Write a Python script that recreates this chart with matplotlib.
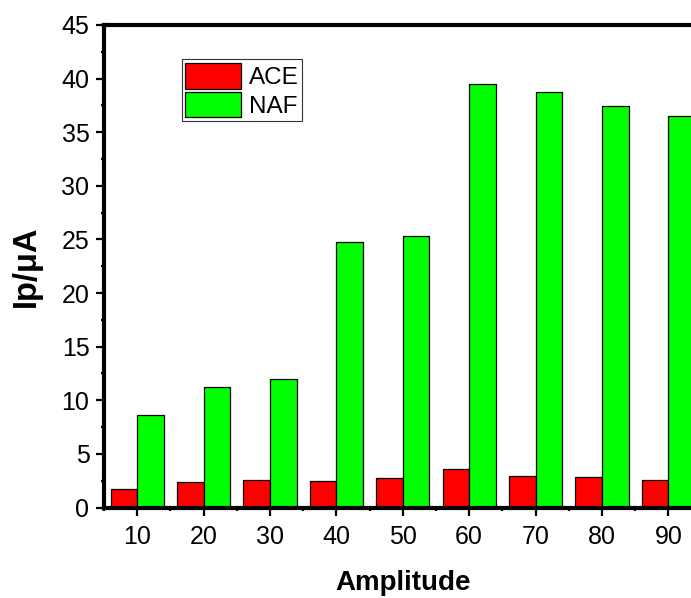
import matplotlib
matplotlib.use("Agg")
import matplotlib.pyplot as plt
from matplotlib.ticker import MultipleLocator

plt.rcParams['font.family'] = ['Liberation Sans', 'DejaVu Sans']

amplitude = [10, 20, 30, 40, 50, 60, 70, 80, 90]
ace = [1.72, 2.35, 2.54, 2.44, 2.72, 3.59, 2.91, 2.82, 2.54]
naf = [8.60, 11.27, 12.02, 24.80, 25.30, 39.53, 38.76, 37.45, 36.55]
series_names = ["ACE", "NAF"]
x_label = "Amplitude"
y_label = "Ip/\u03bcA"

fig = plt.figure(figsize=(6.91, 5.98), dpi=100)
ax = fig.add_axes([0.1505, 0.1513, 0.8648, 0.8069])

bw = 4
ax.bar([a - bw / 2 for a in amplitude], ace, width=bw, color="#ff0000",
       edgecolor="black", linewidth=0.9, label=series_names[0])
ax.bar([a + bw / 2 for a in amplitude], naf, width=bw, color="#00ff00",
       edgecolor="black", linewidth=0.9, label=series_names[1])

ax.set_xlim(5, 95)
ax.set_ylim(0, 45)
ax.xaxis.set_major_locator(MultipleLocator(10))
ax.xaxis.set_minor_locator(MultipleLocator(5))
ax.yaxis.set_major_locator(MultipleLocator(5))
ax.yaxis.set_minor_locator(MultipleLocator(2.5))
ax.set_xticks(amplitude)
ax.set_xticklabels([str(a) for a in amplitude])

for s in ax.spines.values():
    s.set_linewidth(3)
ax.tick_params(which="major", direction="out", length=5.5, width=1.6,
               labelsize=18, pad=5)
ax.tick_params(which="minor", direction="out", length=2.5, width=1.6)
ax.tick_params(axis="x", which="major", pad=7)

ax.set_xlabel(x_label, fontsize=20, fontweight="bold", labelpad=15)
ax.set_ylabel(y_label, fontsize=23.5, fontweight="bold", labelpad=14)

leg = ax.legend(loc="upper left", bbox_to_anchor=(0.263, 0.901),
                bbox_transform=fig.transFigure, fontsize=17.5,
                frameon=True, fancybox=False, shadow=False,
                handlelength=2.3, handleheight=1.25, handletextpad=0.3,
                labelspacing=0.12, borderpad=0.15, borderaxespad=0)
leg.get_frame().set_edgecolor("black")
leg.get_frame().set_linewidth(0.8)

fig.savefig("out.png", dpi=100)
